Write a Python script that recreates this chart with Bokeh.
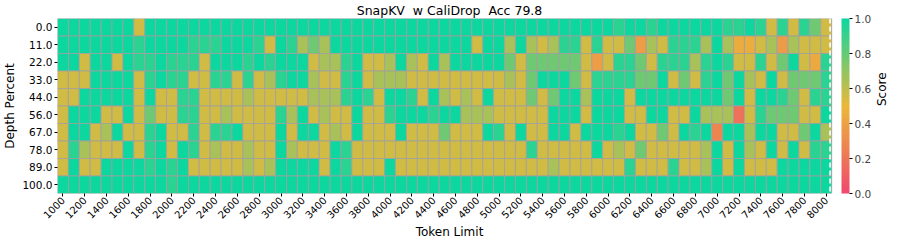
import math
from bokeh.plotting import figure
from bokeh.models import (ColumnDataSource, LinearColorMapper, ColorBar, FixedTicker,
                          Span, Range1d, PrintfTickFormatter, LinearAxis)
from bokeh.embed import file_html
from bokeh.resources import INLINE

title_text = "SnapKV \u00a0w CaliDrop \u00a0Acc 79.8"
token_limits = list(range(1000, 8001, 100))
depth_percents = [0.0, 11.0, 22.0, 33.0, 44.0, 56.0, 67.0, 78.0, 89.0, 100.0]
x_tick_labels = [str(t) for t in token_limits[::2]]

score_d0 = [1, 1, 1, 1, 1, 1, 1, .56, 1,
            1, 1, 1, 1, 1, 1, 1, 1, 1,
            1, 1, 1, 1, 1, 1, 1, 1, 1,
            1, 1, 1, 1, 1, 1, 1, 1, 1,
            1, 1, 1, 1, 1, 1, 1, 1, 1,
            1, 1, 1, 1, 1, 1, .93, 1, 1,
            .93, 1, 1, 1, 1, 1, 1, .93, .93,
            1, .93, .56, .93, .56, .93, .78, .56]
score_d11 = [1, 1, 1, 1, 1, 1, 1, .93, 1,
             1, 1, 1, .93, .93, .93, 1, 1, 1,
             .93, .56, 1, .93, .65, .78, .65, 1, 1,
             1, 1, 1, 1, 1, 1, 1, 1, 1,
             1, 1, .56, 1, 1, .65, 1, .65, .56,
             .65, .93, .93, .56, .93, .56, .56, .78, .38,
             .65, .56, .93, .93, .93, .65, 1, .65, .45,
             .45, .56, .65, .37, .65, .56, .56, .56]
score_d22 = [1, 1, .56, 1, 1, .56, 1, .93, .93,
             1, .93, .93, .93, .56, 1, 1, 1, .93,
             1, .93, 1, 1, 1, .56, .65, .65, .93,
             1, .56, .56, .65, 1, .65, .56, 1, .65,
             1, 1, 1, 1, 1, .78, .56, .78, .78,
             .78, .78, .78, .56, .38, .56, .93, .93, .78,
             .56, .93, .93, .93, .65, .93, 1, .93, .56,
             .56, .93, .56, .78, 1, .56, .43, .93]
score_d33 = [.56, .56, .56, 1, 1, 1, 1, .56, .93,
             1, .93, .93, .56, .56, .93, .93, .56, .93,
             .56, .65, .93, 1, 1, .65, .56, .56, .93,
             1, .56, .65, .65, .65, .56, .56, .56, .56,
             .56, .56, .56, .56, .56, .65, .56, .78, 1,
             1, 1, .78, .56, .93, .93, .93, .93, .78,
             .78, 1, .56, .78, .56, .93, 1, .78, 1,
             .65, .56, 1, .56, .78, .78, .78, .93]
score_d44 = [.56, .56, 1, 1, 1, 1, 1, .56, 1,
             .56, .56, .93, .93, .56, .56, .56, .56, .65,
             .56, .56, .56, .56, .56, .65, .65, .65, .93,
             1, .93, .56, 1, 1, .93, .56, 1, .65,
             .56, .65, .56, 1, .56, .56, .56, .78, .56,
             .78, 1, 1, .65, 1, 1, 1, .56, 1,
             1, 1, 1, 1, 1, 1, 1, .78, 1,
             .56, 1, 1, .93, .78, .56, .93, .93]
score_d56 = [.56, 1, 1, 1, .56, .56, 1, .56, .78,
             .56, .56, .93, .93, .56, .56, .65, .56, .56,
             .56, .56, .93, .65, 1, .56, .65, .56, .56,
             1, .56, .56, .93, 1, 1, 1, .93, 1,
             1, .65, .65, .65, .56, .56, .56, .56, .56,
             1, 1, 1, .56, 1, 1, 1, .56, .56,
             1, 1, .56, .56, 1, .65, .65, .65, .18,
             .56, .93, .78, .78, .78, .56, .56, 1]
score_d67 = [.56, 1, 1, .56, .65, 1, .56, .56, .93,
             1, .56, .56, .93, .56, .93, .93, 1, .56,
             .56, .56, 1, .56, 1, 1, .56, .65, .56,
             1, .56, .56, .56, 1, .56, .56, .56, .78,
             .56, .56, .56, 1, .93, .56, 1, .56, .56,
             1, 1, .56, 1, 1, 1, .93, 1, .56,
             .56, .78, .56, 1, .93, 1, .27, 1, 1,
             .65, 1, 1, .56, .56, .78, 1, .65]
score_d78 = [.56, .93, .65, .56, .56, .56, 1, .56, .93,
             1, .56, 1, .93, .56, .65, .56, .56, .65,
             .56, .56, 1, .65, .56, .56, .56, 1, .93,
             .56, .56, .56, .56, .56, .56, .56, .56, .56,
             .56, .56, .56, .56, .56, .56, .56, .93, .56,
             .56, .56, .56, .56, 1, .56, .65, .56, .78,
             .56, .56, .56, .56, .56, .65, 1, .56, 1,
             .65, .56, 1, .56, 1, .56, .93, .93]
score_d89 = [.56, 1, .56, .56, 1, 1, 1, 1, .93,
             1, .93, 1, .56, .56, .56, .56, .56, .65,
             .56, .65, 1, 1, 1, 1, .56, 1, .93,
             .56, .56, .56, 1, .56, .56, .56, .56, .56,
             .56, .56, .56, .56, .56, .56, .56, .56, .56,
             .65, .56, .56, .56, .56, .56, .56, .93, .56,
             .56, .56, .93, .56, .56, .65, 1, .56, 1,
             .56, .56, .56, 1, 1, 1, 1, 1]
score_d100 = [1, 1, 1, 1, 1, 1, 1, 1, 1,
              1, .93, 1, 1, 1, 1, 1, 1, 1,
              1, 1, 1, 1, 1, 1, 1, 1, 1,
              1, 1, 1, 1, 1, 1, 1, 1, 1,
              1, 1, 1, 1, 1, 1, 1, 1, 1,
              1, 1, 1, 1, 1, 1, 1, 1, 1,
              1, 1, 1, 1, 1, 1, 1, 1, 1,
              1, 1, 1, 1, 1, 1, 1, 1]
score_rows = [score_d0, score_d11, score_d22, score_d33, score_d44,
              score_d56, score_d67, score_d78, score_d89, score_d100]

# colormap red -> yellow -> green
anchors = [(0xF0, 0x49, 0x6E), (0xEB, 0xB8, 0x39), (0x0C, 0xD7, 0x9F)]
palette = []
n_col = 256
for k in range(n_col):
    t = k / (n_col - 1) * 2
    seg = min(int(t), 1)
    f = t - seg
    a, b = anchors[seg], anchors[seg + 1]
    c = tuple(round(a[i] + (b[i] - a[i]) * f) for i in range(3))
    palette.append("#%02x%02x%02x" % c)
mapper = LinearColorMapper(palette=palette, low=0, high=1)

xs, ys, vals = [], [], []
for j, row in enumerate(score_rows):
    for i, v in enumerate(row):
        xs.append(i + 0.5)
        ys.append(j + 0.5)
        vals.append(v)
src = ColumnDataSource(dict(x=xs, y=ys, score=vals))

FONT = "DejaVu Sans"
gap_cols = 0.9  # white gap between heatmap and colour bar (in column widths)
p = figure(frame_width=784, frame_height=175, output_backend="svg", toolbar_location=None,
           x_range=Range1d(0, len(token_limits) + gap_cols),
           y_range=Range1d(len(depth_percents), 0),
           min_border_left=0, min_border_right=0, min_border_top=0, min_border_bottom=0)
p.rect(x="x", y="y", width=1, height=1, source=src,
       fill_color={"field": "score", "transform": mapper},
       line_color="#a0a0a0", line_width=0.8)

p.title.text = title_text
p.title.align = "center"
p.title.text_font = FONT
p.title.text_font_size = "12.5px"
p.title.text_font_style = "normal"
p.title.text_color = "black"
p.title.standoff = 1

p.xaxis.ticker = FixedTicker(ticks=[i + 0.5 for i in range(0, len(token_limits), 2)])
p.xaxis.major_label_overrides = {i + 0.5: lab for i, lab in zip(range(0, len(token_limits), 2), x_tick_labels)}
p.xaxis.major_label_orientation = math.pi / 4
p.xaxis.axis_label = "Token Limit"
p.yaxis.ticker = FixedTicker(ticks=[j + 0.5 for j in range(len(depth_percents))])
p.yaxis.major_label_overrides = {j + 0.5: "%.1f" % d for j, d in enumerate(depth_percents)}
p.yaxis.axis_label = "Depth Percent"
for ax in (p.xaxis[0], p.yaxis[0]):
    ax.axis_line_color = None
    ax.major_tick_out = 3
    ax.major_tick_in = 0
    ax.minor_tick_out = 0
    ax.minor_tick_in = 0
    ax.major_tick_line_color = "black"
    ax.major_label_text_font = FONT
    ax.major_label_text_font_size = "10.5px"
    ax.major_label_text_color = "black"
    ax.major_label_standoff = 2
    ax.axis_label_text_font = FONT
    ax.axis_label_text_font_size = "12px"
    ax.axis_label_text_font_style = "normal"
    ax.axis_label_text_color = "black"
    ax.axis_label_standoff = 2
p.xaxis.major_label_text_font_size = "10px"
p.xaxis.major_label_standoff = 2
p.xaxis.axis_label_standoff = 0
p.grid.visible = False
p.outline_line_color = None

dash_pos = 70.85
p.add_layout(Span(location=dash_pos, dimension="height", line_color="white",
                  line_dash="5 3", line_width=1.6))

cb = ColorBar(color_mapper=mapper, width=8, padding=0, margin=0,
              ticker=FixedTicker(ticks=[0, 0.2, 0.4, 0.6, 0.8, 1.0]),
              formatter=PrintfTickFormatter(format="%.1f"),
              major_label_text_font=FONT, major_label_text_font_size="10.5px",
              major_tick_out=3, major_tick_in=0, major_tick_line_color="black",
              label_standoff=2, bar_line_color=None, border_line_color=None,
              background_fill_alpha=0)
p.add_layout(cb, "right")

score_axis = LinearAxis(ticker=FixedTicker(ticks=[]), axis_label="Score",
                        axis_line_color=None, major_tick_out=0, major_tick_in=0,
                        minor_tick_out=0, minor_tick_in=0,
                        axis_label_standoff=7, axis_label_text_font=FONT,
                        axis_label_text_font_size="12px",
                        axis_label_text_font_style="normal",
                        axis_label_text_color="black")
try:
    score_axis.axis_label_orientation = math.pi / 2
except Exception:
    pass
p.add_layout(score_axis, "right")

open("out.html", "w").write(file_html(p, INLINE))
